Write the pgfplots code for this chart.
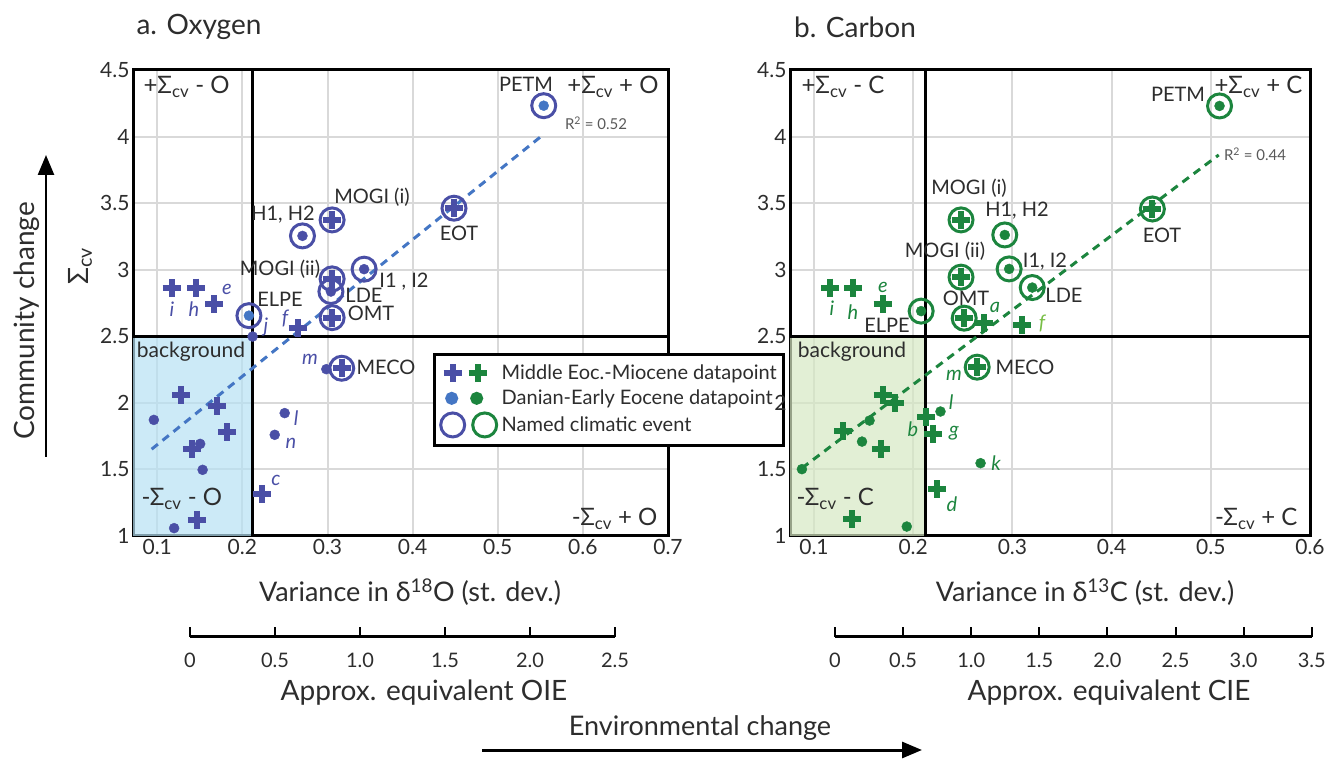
\documentclass[border=0pt]{standalone}
\usepackage{fontspec}
\setmainfont{Lato}
\usepackage{pgfplots}
\pgfplotsset{compat=1.18}
\usetikzlibrary{arrows.meta}
\definecolor{oxc}{RGB}{74,79,166}
\definecolor{oxd}{RGB}{68,118,196}
\definecolor{cg}{RGB}{28,133,62}
\definecolor{cgl}{RGB}{120,190,70}
\definecolor{bgb}{RGB}{182,225,243}
\definecolor{bgg}{RGB}{214,232,195}
\definecolor{gridc}{RGB}{217,217,217}
\definecolor{txt}{RGB}{45,45,45}
\newcommand{\fs}[1]{\fontsize{#1}{#1}\selectfont}
\pgfplotsset{
  mainax/.style={scale only axis, height=466pt, ymin=1, ymax=4.5,
    ytick={1,1.5,2,2.5,3,3.5,4,4.5}, grid=major,
    grid style={gridc, line width=2pt},
    axis line style={line width=3pt}, major tick length=0pt,
    tick label style={font=\fs{21}, text=txt},
    /pgf/number format/assume math mode=true, clip=false},
  crs/.style={only marks, mark=+, mark size=9pt, mark options={line width=6pt}, forget plot},
  dts/.style={only marks, mark=*, mark size=5pt, forget plot},
  cis/.style={only marks, mark=o, mark size=12pt, mark options={line width=3pt}, forget plot},
}
\begin{document}
\begin{tikzpicture}
\useasboundingbox (0pt,0pt) rectangle (1328pt,758pt);
% ---------------- a. Oxygen ----------------
\begin{axis}[mainax, at={(133pt,222pt)}, anchor=south west, width=535pt,
  xmin=0.0715, xmax=0.7, xtick={0.1,0.2,0.3,0.4,0.5,0.6,0.7},
  legend style={at={(0.5602,0.3933)}, anchor=north west,
    draw=black, line width=3pt, fill=white, font=\fs{20}, text=txt,
    row sep=3pt, inner xsep=5pt, inner ysep=7pt, nodes={inner sep=2pt}},
  legend cell align=left]
\addplot[draw=none, fill=bgb, fill opacity=0.7, forget plot]
  coordinates {(0.0715,1) (0.2114,1) (0.2114,2.5) (0.0715,2.5) (0.0715,1)};
\addplot[black, line width=3pt, forget plot] coordinates {(0.2114,1) (0.2114,4.5)};
\addplot[black, line width=3pt, forget plot] coordinates {(0.0715,2.5) (0.7,2.5)};
\addplot[oxd, line width=3pt, dash pattern=on 8pt off 6pt, forget plot]
  coordinates {(0.0934,1.652) (0.553,4.012)};
\addplot[cis, oxc] coordinates {(0.554,4.232) (0.4486,3.462) (0.3054,3.374) (0.2706,3.254) (0.343,3.004) (0.3054,2.931) (0.304,2.836) (0.3054,2.640) (0.2077,2.655) (0.3167,2.260)};
\addplot[crs, oxc] coordinates {(0.4486,3.462) (0.3054,3.374) (0.3054,2.931) (0.3054,2.640) (0.3167,2.260) (0.265,2.561) (0.117,2.861) (0.146,2.866) (0.1667,2.741) (0.1283,2.060) (0.170,1.977) (0.1818,1.780) (0.1408,1.652) (0.1462,1.122) (0.2233,1.317)};
\addplot[dts, oxc] coordinates {(0.2706,3.254) (0.343,3.004) (0.304,2.836) (0.212,2.498) (0.2986,2.253) (0.2497,1.923) (0.238,1.760) (0.096,1.872) (0.1504,1.692) (0.1533,1.497) (0.1198,1.059)};
\addplot[dts, oxd] coordinates {(0.554,4.232) (0.2077,2.655)};
\addlegendimage{legend image code/.code={
  \draw[oxc, line width=6pt] (4pt,0pt) -- (22pt,0pt) (13pt,-9pt) -- (13pt,9pt);
  \draw[cg, line width=6pt] (29pt,0pt) -- (47pt,0pt) (38pt,-9pt) -- (38pt,9pt);
  \path[draw=none, fill=none] (0pt,-1pt) rectangle (60pt,1pt);}}
\addlegendentry{Middle Eoc.-Miocene datapoint}
\addlegendimage{legend image code/.code={
  \fill[oxd] (12pt,0pt) circle (5pt);
  \fill[cg] (37pt,0pt) circle (5pt);
  \path[draw=none, fill=none] (0pt,-1pt) rectangle (60pt,1pt);}}
\addlegendentry{Danian-Early Eocene datapoint}
\addlegendimage{legend image code/.code={
  \draw[oxc, line width=3pt] (13pt,0pt) circle (12pt);
  \draw[cg, line width=3pt] (45pt,0pt) circle (12pt);
  \path[draw=none, fill=none] (0pt,-1pt) rectangle (60pt,1pt);}}
\addlegendentry{Named climatic event}
\end{axis}
% ---------------- b. Carbon ----------------
\begin{axis}[mainax, at={(790pt,222pt)}, anchor=south west, width=520pt,
  xmin=0.0758, xmax=0.6, xtick={0.1,0.2,0.3,0.4,0.5,0.6}]
\addplot[draw=none, fill=bgg, fill opacity=0.7, forget plot]
  coordinates {(0.0758,1) (0.212,1) (0.212,2.5) (0.0758,2.5) (0.0758,1)};
\addplot[black, line width=3pt, forget plot] coordinates {(0.212,1) (0.212,4.5)};
\addplot[black, line width=3pt, forget plot] coordinates {(0.0758,2.5) (0.6,2.5)};
\addplot[cg, line width=3pt, dash pattern=on 8pt off 6pt, forget plot]
  coordinates {(0.0878,1.51) (0.508,3.862)};
\addplot[cis, cg] coordinates {(0.5088,4.230) (0.4411,3.456) (0.2482,3.374) (0.2923,3.261) (0.2482,2.944) (0.2967,3.006) (0.320,2.866) (0.208,2.689) (0.2514,2.636) (0.2645,2.268)};
\addplot[crs, cg] coordinates {(0.4411,3.456) (0.2482,3.374) (0.2482,2.944) (0.2514,2.636) (0.2645,2.268) (0.2715,2.598) (0.3096,2.586) (0.1166,2.866) (0.1397,2.866) (0.1692,2.741) (0.1692,2.060) (0.1814,1.998) (0.2132,1.893) (0.2202,1.767) (0.1294,1.785) (0.1675,1.655) (0.2239,1.352) (0.1387,1.127)};
\addplot[dts, cg] coordinates {(0.5088,4.230) (0.2923,3.261) (0.2967,3.006) (0.320,2.866) (0.208,2.689) (0.2275,1.935) (0.156,1.867) (0.1484,1.709) (0.0878,1.502) (0.2679,1.547) (0.1935,1.071)};
\end{axis}
% ---------------- secondary scales ----------------
\begin{scope}[line width=3pt]
\draw (190pt,121pt) -- (615pt,121pt);
\foreach \i in {0,...,5} {\draw[line width=2pt] ({190pt+\i*85pt},121pt) -- ++(0pt,10pt);}
\draw (835pt,121pt) -- (1312pt,121pt);
\foreach \i in {0,...,7} {\draw[line width=2pt] ({835pt+\i*68.1pt},121pt) -- ++(0pt,10pt);}
\end{scope}
\begin{scope}[every node/.style={font=\fs{20}, text=txt}]
\foreach \l [count=\i from 0] in {0,0.5,1.0,1.5,2.0,2.5} {\node at ({190pt+\i*85pt},98pt) {\l};}
\foreach \l [count=\i from 0] in {0,0.5,1.0,1.5,2.0,2.5,3.0,3.5} {\node at ({835pt+\i*68.1pt},98pt) {\l};}
\end{scope}
% ---------------- titles and axis texts ----------------
\begin{scope}[every node/.style={text=txt}]
\node[font=\fs{28}] at (199pt,731pt) {a. Oxygen};
\node[font=\fs{28}] at (855pt,731pt) {b. Carbon};
\node[font=\fs{28}, rotate=90] at (27pt,437pt) {Community change};
\draw[line width=2.5pt, -{Triangle[length=20pt,width=16pt]}] (46pt,301pt) -- (46pt,603pt);
\node[font=\fs{28}, rotate=90] at (80pt,492pt) {Σ\textsubscript{cv}};
\node[font=\fs{27}] at (410pt,166pt) {Variance in δ\textsuperscript{18}O (st. dev.)};
\node[font=\fs{27}] at (1085pt,166pt) {Variance in δ\textsuperscript{13}C (st. dev.)};
\node[font=\fs{28}] at (424pt,65pt) {Approx. equivalent OIE};
\node[font=\fs{28}] at (1109pt,65pt) {Approx. equivalent CIE};
\node[font=\fs{27}] at (700pt,30pt) {Environmental change};
\draw[line width=3pt, -{Triangle[length=20pt,width=16pt]}] (482pt,8pt) -- (922pt,8pt);
% quadrant labels
\node[font=\fs{24}, anchor=west] at (140pt,671pt) {+Σ\textsubscript{cv} - O};
\node[font=\fs{24}, anchor=east] at (662pt,671pt) {+Σ\textsubscript{cv} + O};
\node[font=\fs{24}, anchor=west] at (138pt,259pt) {-Σ\textsubscript{cv} - O};
\node[font=\fs{24}, anchor=east] at (661pt,239pt) {-Σ\textsubscript{cv} + O};
\node[font=\fs{24}, anchor=west] at (798pt,671pt) {+Σ\textsubscript{cv} - C};
\node[font=\fs{24}, anchor=east] at (1306pt,671pt) {+Σ\textsubscript{cv} + C};
\node[font=\fs{24}, anchor=west] at (793pt,259pt) {-Σ\textsubscript{cv} - C};
\node[font=\fs{24}, anchor=east] at (1301pt,239pt) {-Σ\textsubscript{cv} + C};
% event labels
\begin{scope}[every node/.style={font=\fs{20}, text=txt}]
\node at (526pt,674pt) {PETM};
\node[font=\fs{15}, text=black!65] at (596pt,635pt) {R\textsuperscript{2} = 0.52};
\node at (372pt,561pt) {MOGI (i)};
\node at (283pt,543pt) {H1, H2};
\node at (459pt,525pt) {EOT};
\node at (280pt,489pt) {MOGI (ii)};
\node at (404pt,476pt) {I1 , I2};
\node at (364pt,463pt) {LDE};
\node at (280pt,459pt) {ELPE};
\node at (371pt,445pt) {OMT};
\node at (386pt,391pt) {MECO};
\node[font=\fs{21}] at (191pt,406pt) {background};
\node at (1178pt,664pt) {PETM};
\node[font=\fs{15}, text=black!65] at (1255pt,604pt) {R\textsuperscript{2} = 0.44};
\node at (969pt,570pt) {MOGI (i)};
\node at (1017pt,547pt) {H1, H2};
\node at (1162pt,523pt) {EOT};
\node at (945pt,507pt) {MOGI (ii)};
\node at (1045pt,496pt) {I1, I2};
\node at (1064pt,463pt) {LDE};
\node at (966pt,460pt) {OMT};
\node at (887pt,433pt) {ELPE};
\node at (1025pt,391pt) {MECO};
\node[font=\fs{21}] at (852pt,406pt) {background};
\end{scope}
\begin{scope}[every node/.style={font=\fs{20}\itshape, text=oxc}]
\node at (172pt,449pt) {i};
\node at (194pt,449pt) {h};
\node at (227pt,469pt) {e};
\node at (266pt,431pt) {j};
\node at (285pt,440pt) {f};
\node at (310pt,399pt) {m};
\node at (296pt,340pt) {l};
\node at (291pt,315pt) {n};
\node at (276pt,278pt) {c};
\end{scope}
\begin{scope}[every node/.style={font=\fs{20}\itshape, text=cg}]
\node at (832pt,450pt) {i};
\node at (853pt,446pt) {h};
\node at (883pt,471pt) {e};
\node at (995pt,451pt) {a};
\node[text=cgl] at (1042pt,435pt) {f};
\node at (954pt,383pt) {m};
\node at (951pt,356pt) {l};
\node at (913pt,329pt) {b};
\node at (954pt,325pt) {g};
\node at (996pt,295pt) {k};
\node at (952pt,254pt) {d};
\end{scope}
\end{scope}
\end{tikzpicture}
\end{document}
